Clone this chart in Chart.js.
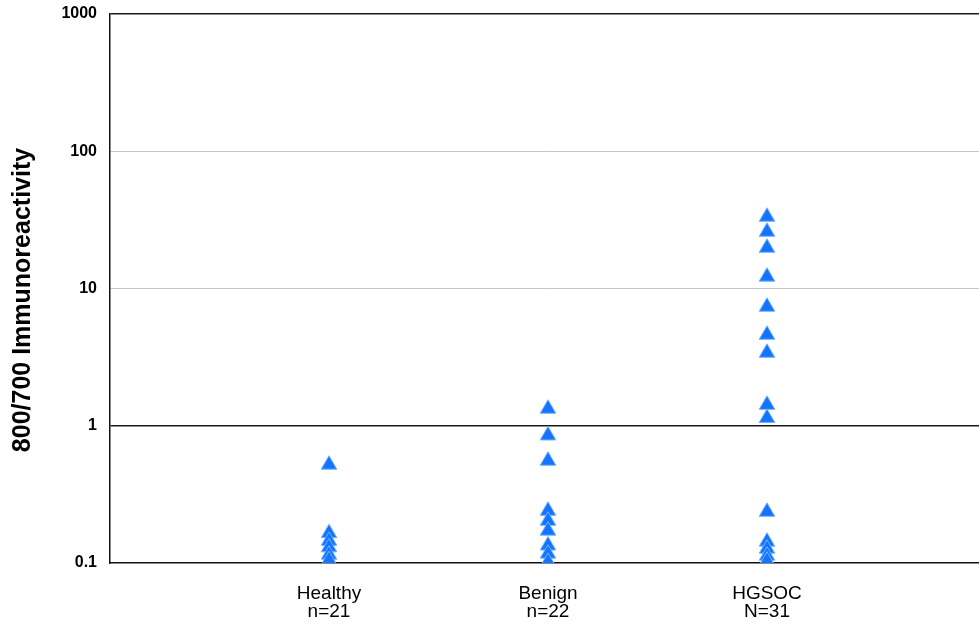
<!DOCTYPE html>
<html>
<head>
<meta charset="utf-8">
<script src="https://cdn.jsdelivr.net/npm/chart.js@4/dist/chart.umd.min.js"></script>
<style>
  html, body { margin: 0; padding: 0; background: #fff; overflow: hidden; }
  #wrap { width: 979px; height: 624px; position: relative; }
</style>
</head>
<body>
<div id="wrap"><canvas id="c"></canvas></div>
<script>
// Group names and sample counts shown under the x axis
const groups = ['Healthy', 'Benign', 'HGSOC'];
const groupCounts = ['n=21', 'n=22', 'N=31'];

// 800/700 immunoreactivity ratio per sample (values at or below 0.1 fall off the axis)
const healthy = [0.52, 0.165, 0.145, 0.13, 0.115, 0.105];
const benign = [1.33, 0.85, 0.556, 0.24, 0.203, 0.172, 0.134, 0.117, 0.102];
const hgsoc = [33.3, 25.9, 19.8, 12.2, 7.36, 4.6, 3.4, 1.42, 1.14, 0.236, 0.143, 0.127, 0.113, 0.104];

// Decade ticks on the log axis
const yTicks = [0.1, 1, 10, 100, 1000];

const seriesByGroup = [healthy, benign, hgsoc];
const points = [];
seriesByGroup.forEach((vals, gi) => {
  vals.forEach(v => points.push({ x: gi + 1, y: v }));
});

const yTitle = '800/700 Immunoreactivity';

const sideTitle = {
  id: 'sideTitle',
  afterDraw(chart) {
    const ctx = chart.ctx;
    ctx.save();
    ctx.translate(23, 300);
    ctx.rotate(-Math.PI / 2);
    ctx.font = 'bold 25px "Liberation Sans", Arial, sans-serif';
    ctx.fillStyle = '#000';
    ctx.textAlign = 'center';
    ctx.textBaseline = 'middle';
    ctx.fillText(yTitle, 0, 0);
    ctx.restore();
  }
};

new Chart(document.getElementById('c'), {
  type: 'scatter',
  data: {
    datasets: [{
      data: points,
      pointStyle: 'triangle',
      pointRadius: 9,
      pointHoverRadius: 9,
      backgroundColor: '#1474ff',
      borderColor: '#70b2ff',
      borderWidth: 1,
      clip: 0
    }]
  },
  options: {
    responsive: true,
    maintainAspectRatio: false,
    animation: false,
    layout: { autoPadding: false, padding: { top: 14, right: 0, bottom: 0, left: 0 } },
    plugins: {
      legend: { display: false },
      tooltip: { enabled: false }
    },
    scales: {
      x: {
        type: 'linear',
        min: 0,
        max: 3.968,
        afterBuildTicks(axis) {
          axis.ticks = groups.map((g, i) => ({ value: i + 1 }));
        },
        afterFit(axis) {
          axis.height = 61;
          axis.paddingLeft = 0;
          axis.paddingRight = 0;
        },
        ticks: {
          callback: v => [groups[v - 1], groupCounts[v - 1]],
          font: { family: '"Liberation Sans", Arial, sans-serif', size: 19, lineHeight: 0.98 },
          color: '#000',
          padding: 21,
          maxRotation: 0,
          autoSkip: false
        },
        grid: { display: false, drawTicks: false },
        border: { display: true, color: '#111', width: 1.5 }
      },
      y: {
        type: 'logarithmic',
        min: 0.1,
        max: 1000,
        afterBuildTicks(axis) {
          axis.ticks = yTicks.map(v => ({ value: v }));
        },
        afterFit(axis) {
          axis.width = 110;
          axis.paddingTop = 0;
          axis.paddingBottom = 0;
        },
        ticks: {
          callback: v => String(v),
          font: { family: '"Liberation Sans", Arial, sans-serif', size: 16, weight: 'bold' },
          color: '#000',
          padding: 13
        },
        grid: {
          drawTicks: false,
          color: c => {
            const v = c.tick && c.tick.value;
            if (v === 1 || v === 1000) return '#1a1a1a';
            if (v === 0.1) return 'rgba(0,0,0,0)';
            return '#c4c4c4';
          },
          lineWidth: c => {
            const v = c.tick && c.tick.value;
            return (v === 1 || v === 1000) ? 1.5 : 1;
          }
        },
        border: { display: true, color: '#111', width: 1.5 }
      }
    }
  },
  plugins: [sideTitle]
});
</script>
</body>
</html>
